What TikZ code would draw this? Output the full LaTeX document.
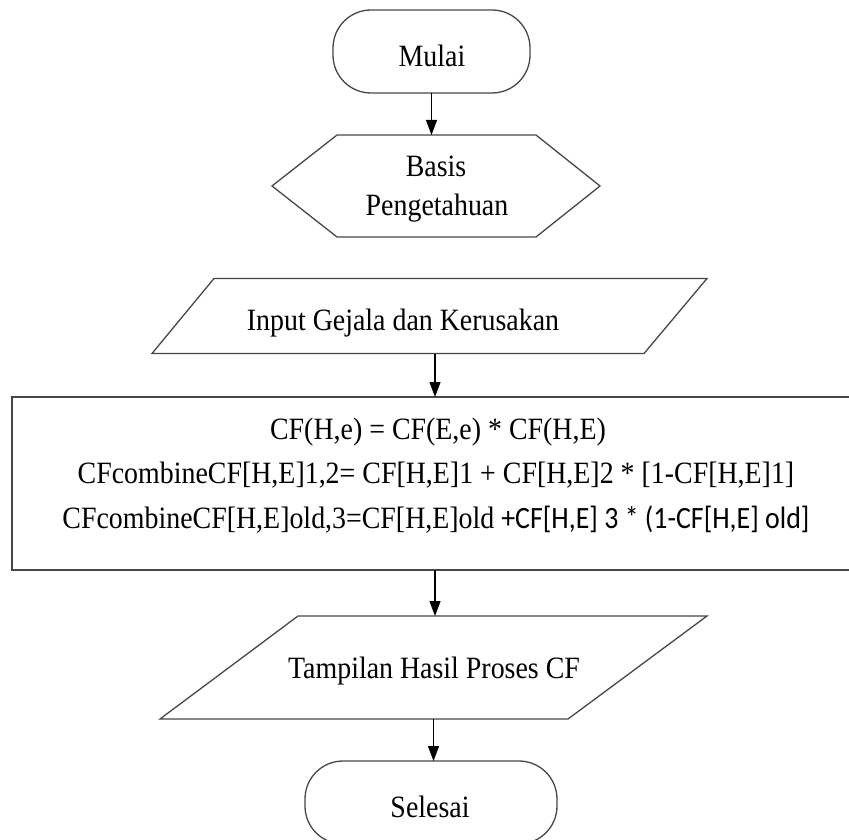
\documentclass[tikz,border=0pt]{standalone}
\usepackage{fontspec}
\setmainfont{Liberation Serif}[FakeStretch=0.9]
\newfontfamily\calfont{Carlito}[FakeStretch=0.9]
\usetikzlibrary{arrows.meta}

\tikzset{
  outline/.style={draw=black!72, line width=1.3pt, line join=miter},
  shapebox/.style={draw=none, inner sep=0pt, outer sep=0pt},
  terminal/.style={outline, inner sep=0pt, outer sep=0pt, rounded corners=38pt},
  label/.style={inner sep=0pt, anchor=base, font=\fontsize{31}{37}\selectfont},
  flow/.style={draw=black, line width=1.2pt, -{Triangle[length=15pt,width=11pt]}}
}

\begin{document}
\begin{tikzpicture}[x=1pt, y=-1pt]
\useasboundingbox (0,0) rectangle (849,840);
\clip (0,0) rectangle (849,840);

% start terminal
\node[terminal, minimum width=197pt, minimum height=83pt] (start) at (431.5,51.5) {};
\node[label] (starttext) at (432,67) {Mulai};

% knowledge base (hexagon)
\node[shapebox, minimum width=328pt, minimum height=102pt] (kb) at (436,186) {};
\draw[outline] (kb.west) -- ([xshift=65pt]kb.north west) -- ([xshift=-64pt]kb.north east)
  -- (kb.east) -- ([xshift=-64pt]kb.south east) -- ([xshift=65pt]kb.south west) -- cycle;
\node[label] (kbtext1) at (436,177) {Basis};
\node[label] (kbtext2) at (437,215) {Pengetahuan};

% input (parallelogram)
\node[shapebox, minimum width=555pt, minimum height=75pt] (input) at (429.5,316) {};
\draw[outline] ([xshift=62pt]input.north west) -- (input.north east)
  -- ([xshift=-63pt]input.south east) -- (input.south west) -- cycle;
\node[label] (inputtext) at (403,330) {Input Gejala dan Kerusakan};

% process (rectangle running past the right edge)
\node[shapebox, minimum width=850pt, minimum height=173pt] (proc) at (437,483.5) {};
\draw[outline] (proc.north west) rectangle (proc.south east);
\node[label] (proc1) at (438,439) {CF(H,e) = CF(E,e) * CF(H,E)};
\node[label] (proc2) at (436,483) {CFcombineCF[H,E]1,2= CF[H,E]1 + CF[H,E]2 * [1-CF[H,E]1]};
\node[label] (proc3) at (436,528) {CFcombineCF[H,E]old,3=CF[H,E]old {\calfont +CF[H,E] 3 * (1-CF[H,E] old]}};

% output (parallelogram)
\node[shapebox, minimum width=547pt, minimum height=103pt] (output) at (433.5,667.5) {};
\draw[outline] ([xshift=138pt]output.north west) -- (output.north east)
  -- ([xshift=-139pt]output.south east) -- (output.south west) -- cycle;
\node[label] (outputtext) at (434,678) {Tampilan Hasil Proses CF};

% end terminal
\node[terminal, minimum width=252pt, minimum height=83pt] (stop) at (431,802.5) {};
\node[label] (stoptext) at (430,817) {Selesai};

% connectors
\draw[flow] (start.south) -- (start.south |- kb.north);
\draw[flow] ([xshift=5.5pt]input.south) -- ([xshift=5.5pt]input.south |- proc.north);
\draw[flow] ([xshift=-2pt]proc.south) -- ([xshift=-2pt]proc.south |- output.north);
\draw[flow] (output.south) -- (output.south |- stop.north);
\end{tikzpicture}
\end{document}
